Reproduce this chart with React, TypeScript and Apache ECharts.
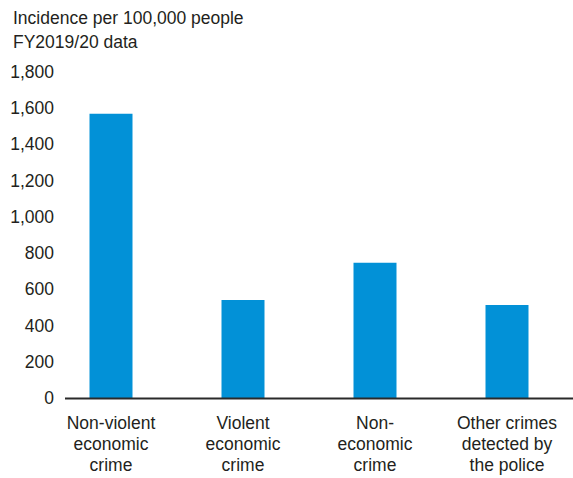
import React, { useEffect, useRef } from "react";
import * as echarts from "echarts";

const categories = [
  "Non-violent\neconomic\ncrime",
  "Violent\neconomic\ncrime",
  "Non-\neconomic\ncrime",
  "Other crimes\ndetected by\nthe police",
];
const values = [1569, 541, 747, 514];
const titleLines = ["Incidence per 100,000 people", "FY2019/20 data"];

const FONT = "'Liberation Sans', Arial, sans-serif";
const TEXT = "#231f20";

export default function App() {
  const ref = useRef<HTMLDivElement>(null);
  useEffect(() => {
    if (!ref.current) return;
    const chart = echarts.init(ref.current, null, { renderer: "svg" });
    chart.setOption({
      animation: false,
      backgroundColor: "#ffffff",
      textStyle: { fontFamily: FONT },
      title: {
        text: titleLines.join("\n"),
        left: 8,
        top: 1,
        textStyle: {
          fontFamily: FONT,
          fontSize: 17.5,
          fontWeight: "normal",
          color: TEXT,
          lineHeight: 24,
        },
      },
      grid: { left: 45, width: 540, top: 72, bottom: 80 },
      xAxis: {
        type: "category",
        data: categories,
        axisLine: { show: false },
        axisTick: { show: false },
        axisLabel: {
          fontFamily: FONT,
          fontSize: 17.5,
          color: TEXT,
          lineHeight: 21,
          margin: 14,
          interval: 0,
        },
      },
      yAxis: {
        type: "value",
        min: 0,
        max: 1800,
        interval: 200,
        splitLine: { show: false },
        axisLine: { show: false },
        axisTick: { show: false },
        axisLabel: {
          fontFamily: FONT,
          fontSize: 17.5,
          color: TEXT,
          margin: -9,
          formatter: (v: number) => v.toLocaleString("en-US"),
        },
      },
      series: [
        {
          type: "bar",
          data: values,
          barWidth: 43,
          itemStyle: { color: "#0291d7" },
          z: 2,
        },
      ],
      graphic: [
        {
          type: "line",
          shape: { x1: 65, y1: 398.5, x2: 573, y2: 398.5 },
          style: { stroke: "#2a2a2a", lineWidth: 1.8 },
          z: 10,
        },
      ],
    });
    return () => chart.dispose();
  }, []);
  return (
    <div
      ref={ref}
      style={{ position: "fixed", left: 0, top: 0, width: 573, height: 478, overflow: "hidden" }}
    />
  );
}
